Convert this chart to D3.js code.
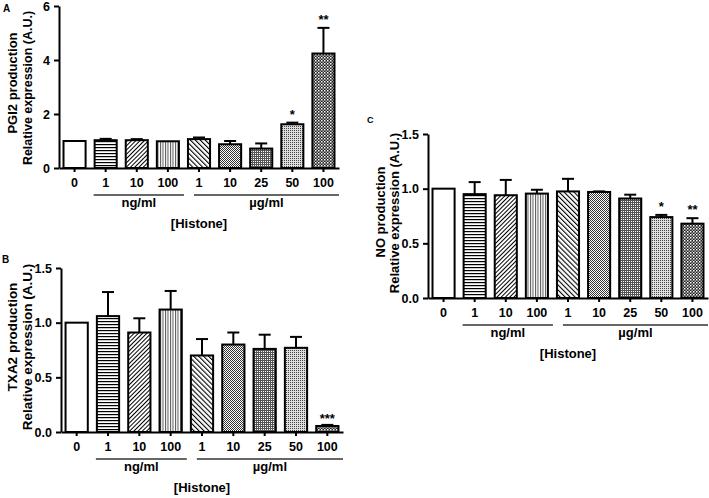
<!DOCTYPE html>
<html>
<head>
<meta charset="utf-8">
<script src="https://cdn.jsdelivr.net/npm/d3@7"></script>
<style>
  html, body { margin: 0; padding: 0; background: #fff; }
  svg { display: block; }
  text { font-family: "Liberation Sans", Arial, sans-serif; font-weight: bold; fill: #000; }
</style>
</head>
<body>
<svg id="chart" width="709" height="498"></svg>
<script>
// ---------- data ----------
const categories = ["0", "1", "10", "100", "1", "10", "25", "50", "100"];
const unitGroups = ["ng/ml", "µg/ml"];
const xTitle = "[Histone]";

const pgi2Mean = [1.00, 1.03, 1.03, 0.99, 1.07, 0.88, 0.72, 1.62, 4.24];
const pgi2Sem  = [0.00, 0.05, 0.04, 0.00, 0.06, 0.12, 0.19, 0.06, 0.95];
const pgi2Sig  = ["", "", "", "", "", "", "", "*", "**"];
const pgi2Ticks = [0, 2, 4, 6];

const txa2Mean = [1.00, 1.06, 0.91, 1.12, 0.70, 0.80, 0.76, 0.77, 0.055];
const txa2Sem  = [0.00, 0.22, 0.13, 0.17, 0.15, 0.11, 0.13, 0.10, 0.01];
const txa2Sig  = ["", "", "", "", "", "", "", "", "***"];
const txa2Ticks = [0, 0.5, 1.0, 1.5];

const noMean = [1.00, 0.95, 0.94, 0.955, 0.975, 0.97, 0.91, 0.74, 0.68];
const noSem  = [0.00, 0.11, 0.14, 0.035, 0.115, 0.005, 0.035, 0.02, 0.05];
const noSig  = ["", "", "", "", "", "", "", "*", "**"];
const noTicks = [0, 0.5, 1.0, 1.5];

const patternIds = ["pWhite", "pHoriz", "pSlash", "pVert", "pBack", "pFine", "pGrid", "pDots", "pCheck"];

// ---------- svg & patterns ----------
const svg = d3.select("#chart");
const defs = svg.append("defs");
function pattern(id, w, h, draw, transform) {
  const p = defs.append("pattern").attr("id", id)
    .attr("patternUnits", "userSpaceOnUse").attr("width", w).attr("height", h);
  if (transform) p.attr("patternTransform", transform);
  p.append("rect").attr("width", w).attr("height", h).attr("fill", "#fff");
  draw(p);
}
pattern("pWhite", 4, 4, p => {});
pattern("pHoriz", 4, 3, p => p.append("rect").attr("y", 0).attr("width", 4).attr("height", 1.2).attr("fill", "#000"));
pattern("pSlash", 3, 3, p => p.append("rect").attr("width", 1).attr("height", 3).attr("fill", "#000"), "rotate(45)");
pattern("pVert", 2.5, 4, p => p.append("rect").attr("width", 1).attr("height", 4).attr("fill", "#555"));
pattern("pBack", 3.5, 3, p => p.append("rect").attr("width", 1.1).attr("height", 3).attr("fill", "#000"), "rotate(-45)");
pattern("pFine", 2, 2, p => {
  p.append("rect").attr("x", 0).attr("y", 0).attr("width", 1).attr("height", 1).attr("fill", "#333");
  p.append("rect").attr("x", 1).attr("y", 1).attr("width", 1).attr("height", 1).attr("fill", "#333");
});
pattern("pGrid", 2, 2, p => {
  p.append("rect").attr("x", 0).attr("y", 0).attr("width", 2).attr("height", 1).attr("fill", "#555");
  p.append("rect").attr("x", 0).attr("y", 0).attr("width", 1).attr("height", 2).attr("fill", "#555");
});
pattern("pDots", 2, 2, p => {
  p.append("rect").attr("width", 2).attr("height", 2).attr("fill", "#ddd");
  p.append("rect").attr("width", 1).attr("height", 1).attr("fill", "#444");
});
pattern("pCheck", 3, 3, p => {
  p.append("rect").attr("width", 3).attr("height", 3).attr("fill", "#222");
  p.append("rect").attr("x", 0).attr("y", 0).attr("width", 1.5).attr("height", 1.5).attr("fill", "#fff");
  p.append("rect").attr("x", 1.5).attr("y", 1.5).attr("width", 1.5).attr("height", 1.5).attr("fill", "#aaa");
});

// ---------- panel drawing ----------
function drawPanel(cfg) {
  const g = svg.append("g");
  const idx = d3.range(categories.length);
  const x = d3.scaleBand().domain(idx).range([cfg.x0, cfg.x1]).paddingInner(0.29).paddingOuter(0.145);
  const y = d3.scaleLinear().domain([0, cfg.max]).range([cfg.yBot, cfg.yTop]);
  const bw = x.bandwidth();

  // error bars (upper only)
  const eb = g.append("g").attr("stroke", "#000").attr("stroke-width", 2);
  idx.forEach(i => {
    if (cfg.sem[i] <= 0) return;
    const cx = x(i) + bw / 2;
    const top = y(cfg.mean[i] + cfg.sem[i]);
    eb.append("line").attr("x1", cx).attr("x2", cx).attr("y1", y(cfg.mean[i])).attr("y2", top);
    eb.append("line").attr("x1", cx - 6).attr("x2", cx + 6).attr("y1", top).attr("y2", top);
  });

  // bars
  g.append("g").selectAll("rect").data(idx).join("rect")
    .attr("x", i => x(i)).attr("width", bw)
    .attr("y", i => y(cfg.mean[i])).attr("height", i => y(0) - y(cfg.mean[i]))
    .attr("fill", i => `url(#${patternIds[i]})`)
    .attr("stroke", "#000").attr("stroke-width", 2);

  // significance marks
  g.append("g").selectAll("text").data(idx.filter(i => cfg.sig[i])).join("text")
    .attr("x", i => x(i) + bw / 2)
    .attr("y", i => y(cfg.mean[i] + cfg.sem[i]) + cfg.sigDy)
    .attr("text-anchor", "middle").attr("font-size", 13)
    .text(i => cfg.sig[i]);

  // y axis
  const ya = g.append("g").attr("transform", `translate(${cfg.x0},0)`)
    .call(d3.axisLeft(y).tickValues(cfg.ticks).tickSize(5).tickSizeOuter(0).tickPadding(4)
      .tickFormat(cfg.fmt));
  ya.select(".domain").attr("stroke-width", 2);
  ya.selectAll(".tick line").attr("stroke-width", 2);
  ya.selectAll("text").attr("font-size", 12.5).attr("font-family", null).attr("font-weight", "bold");

  // x axis
  const xa = g.append("g").attr("transform", `translate(0,${cfg.yBot})`)
    .call(d3.axisBottom(x).tickSize(4).tickSizeOuter(0).tickFormat(i => categories[i]));
  xa.select(".domain").attr("stroke-width", 2);
  xa.selectAll(".tick line").attr("stroke-width", 2);
  xa.selectAll("text").attr("font-size", 12.5).attr("font-family", null).attr("font-weight", "bold")
    .attr("dy", null).attr("y", 19);

  // unit group lines & labels
  const groups = [
    { a: x(1) - 1, b: x(3) + bw + 5, label: unitGroups[0] },
    { a: x(4) + 6, b: cfg.x1, label: unitGroups[1] }
  ];
  groups.forEach(gr => {
    g.append("line").attr("x1", gr.a).attr("x2", gr.b)
      .attr("y1", cfg.yBot + 27).attr("y2", cfg.yBot + 27)
      .attr("stroke", "#333").attr("stroke-width", 1.5);
    g.append("text").attr("x", (gr.a + gr.b) / 2).attr("y", cfg.yBot + 39)
      .attr("text-anchor", "middle").attr("font-size", 13).text(gr.label);
  });
  g.append("text").attr("x", (cfg.x0 + cfg.x1) / 2).attr("y", cfg.yBot + 60)
    .attr("text-anchor", "middle").attr("font-size", 13).text(xTitle);

  // y title (two lines)
  cfg.yTitle.forEach((t, k) => {
    g.append("text")
      .attr("transform", `translate(${cfg.titleX[k]},${cfg.titleY[k]}) rotate(-90)`)
      .attr("text-anchor", "middle").attr("font-size", cfg.titleSize[k]).text(t);
  });

  // panel letter
  g.append("text").attr("x", cfg.letterPos[0]).attr("y", cfg.letterPos[1])
    .attr("font-size", cfg.letterSize).text(cfg.letter);
}

const fmt0 = d3.format("d");
const fmt1 = d3.format(".1f");

drawPanel({
  letter: "A", letterPos: [3, 12], letterSize: 10,
  mean: pgi2Mean, sem: pgi2Sem, sig: pgi2Sig, ticks: pgi2Ticks, fmt: fmt0, max: 6,
  x0: 59, x1: 339, yTop: 6, yBot: 168, sigDy: -4,
  yTitle: ["PGI2 production", "Relative expression (A.U.)"],
  titleX: [17, 32], titleY: [83, 88], titleSize: [13, 12.5]
});

drawPanel({
  letter: "B", letterPos: [2, 263], letterSize: 10,
  mean: txa2Mean, sem: txa2Sem, sig: txa2Sig, ticks: txa2Ticks, fmt: fmt1, max: 1.5,
  x0: 61, x1: 343, yTop: 268, yBot: 432, sigDy: -2,
  yTitle: ["TXA2 production", "Relative expression (A.U.)"],
  titleX: [17, 32], titleY: [337, 347], titleSize: [13.5, 13.5]
});

drawPanel({
  letter: "C", letterPos: [367, 123], letterSize: 9,
  mean: noMean, sem: noSem, sig: noSig, ticks: noTicks, fmt: fmt1, max: 1.5,
  x0: 428, x1: 708, yTop: 134, yBot: 298, sigDy: -4,
  yTitle: ["NO production", "Relative expression (A.U.)"],
  titleX: [385, 399], titleY: [212, 213], titleSize: [13, 13]
});
</script>
</body>
</html>
